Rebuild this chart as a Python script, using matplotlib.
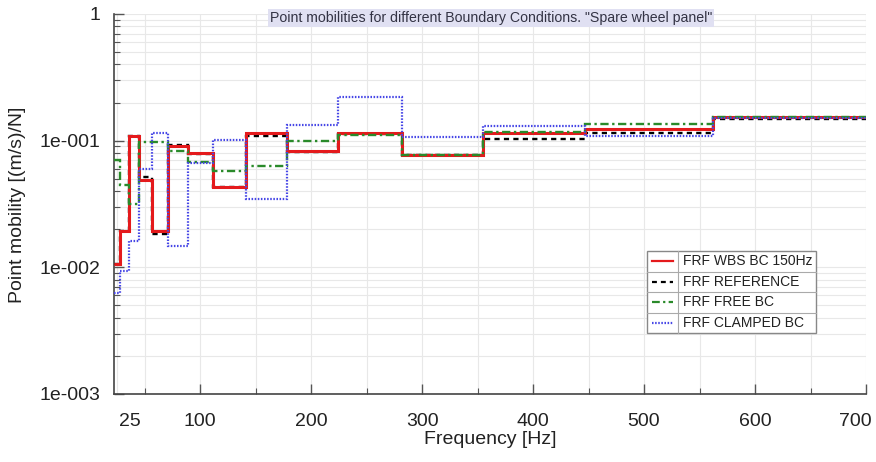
import matplotlib
matplotlib.use("Agg")
import matplotlib.pyplot as plt
from matplotlib.ticker import LogLocator, NullFormatter, MultipleLocator
from matplotlib.transforms import ScaledTranslation
from matplotlib.lines import Line2D
from matplotlib.patches import Rectangle

plt.rcParams['font.family'] = ['Liberation Sans', 'DejaVu Sans']

# one-third octave band edges [Hz]
band_edges = [22.4, 28.2, 35.5, 44.7, 56.2, 70.8, 89.1, 112, 141, 178, 224, 282, 355, 447, 562, 708]

frf_wbs = [0.0106, 0.0194, 0.109, 0.049, 0.0193, 0.090, 0.080, 0.043, 0.114, 0.083, 0.116, 0.077, 0.116, 0.123, 0.155]
frf_ref = [0.0106, 0.0194, 0.109, 0.052, 0.0183, 0.092, 0.079, 0.043, 0.108, 0.081, 0.112, 0.077, 0.103, 0.116, 0.148]
frf_free = [0.070, 0.0446, 0.0316, 0.0975, 0.098, 0.083, 0.068, 0.0575, 0.063, 0.099, 0.111, 0.077, 0.118, 0.136, 0.153]
frf_clamped = [0.0063, 0.0093, 0.0162, 0.0593, 0.114, 0.0147, 0.0666, 0.101, 0.0348, 0.133, 0.222, 0.106, 0.130, 0.109, 0.150]

series_labels = ["FRF WBS BC 150Hz", "FRF REFERENCE", "FRF FREE BC", "FRF CLAMPED BC"]

x_ticks = [25, 100, 200, 300, 400, 500, 600, 700]
x_tick_labels = ["25", "100", "200", "300", "400", "500", "600", "700"]
y_ticks = [1e-3, 1e-2, 1e-1, 1]
y_tick_labels = ["1e-003", "1e-002", "1e-001", "1"]

title = 'Point mobilities for different Boundary Conditions. "Spare wheel panel"'

W, H = 876, 462
fig = plt.figure(figsize=(W / 100, H / 100), dpi=100)


def fx(x):
    return x / W


def fy(y):
    return 1 - y / H


ax = fig.add_axes([fx(114), fy(394), (866 - 114) / W, (394 - 14) / H])
ax.set_xlim(22.4, 700)
ax.set_yscale('log')
ax.set_ylim(1e-3, 1)

styles = [
    dict(color='#e41a1c', lw=2.2, ls='-'),
    dict(color='black', lw=1.7, ls=(0, (2.2, 1.8))),
    dict(color='#2a8a2a', lw=1.7, ls=(0, (3.5, 1.5, 1, 1.5))),
    dict(color='#4646e6', lw=1.6, ls=(0, (0.7, 0.7))),
]
all_vals = [frf_wbs, frf_ref, frf_free, frf_clamped]
zorders = [3, 2, 4, 5]
for vals, st, z in zip(all_vals, styles, zorders):
    ax.stairs(vals, band_edges, baseline=None, zorder=z, **st)

ax.set_xticks(x_ticks)
ax.set_xticklabels(x_tick_labels)
ax.xaxis.set_minor_locator(MultipleLocator(50))
ax.set_yticks(y_ticks)
ax.set_yticklabels(y_tick_labels)
ax.yaxis.set_minor_locator(LogLocator(base=10, subs=[2, 3, 4, 5, 6, 7, 8, 9]))
ax.yaxis.set_minor_formatter(NullFormatter())

ax.grid(True, which='both', color='#e8e8e8', lw=0.8)
ax.set_axisbelow(True)
for s in ['top', 'right']:
    ax.spines[s].set_visible(False)
for s in ['left', 'bottom']:
    ax.spines[s].set_color('#444444')
    ax.spines[s].set_linewidth(1.2)

ax.tick_params(which='major', direction='in', length=7, width=1, color='#555555',
               labelsize=14, labelcolor='#222222')
ax.tick_params(which='minor', direction='in', length=4, width=0.8, color='#555555')
ax.tick_params(axis='x', which='major', pad=14)
ax.tick_params(axis='y', which='major', pad=10)

xt = ax.xaxis.get_major_ticks()
# shift the "25" label slightly right and the "700" label slightly left, as in the reference
xt[0].label1.set_transform(xt[0].label1.get_transform() + ScaledTranslation(13 / 100, 0, fig.dpi_scale_trans))
xt[0].tick1line.set_visible(False)
xt[-1].label1.set_transform(xt[-1].label1.get_transform() + ScaledTranslation(-11 / 100, 0, fig.dpi_scale_trans))

fig.text(fx(490), fy(440), "Frequency [Hz]", ha='center', va='center', fontsize=14, color='#222222')
fig.text(fx(18), fy(205), "Point mobility [(m/s)/N]", ha='center', va='center', rotation=90,
         fontsize=14, color='#222222')

fig.text(fx(491), fy(18), title, ha='center', va='center', fontsize=10.2, color='#333344',
         bbox=dict(boxstyle='square,pad=0.12', facecolor='#e0e0f2', edgecolor='none'))

# legend drawn as a small table
lx0, lx1, ly0, ly1 = 647, 816, 251, 333
fig.add_artist(Rectangle((fx(lx0), fy(ly1)), (lx1 - lx0) / W, (ly1 - ly0) / H,
                         transform=fig.transFigure, facecolor='white', edgecolor='#888888', lw=1))
row_h = (ly1 - ly0) / 4
for i in range(1, 4):
    yy = ly0 + i * row_h
    fig.add_artist(Line2D([fx(lx0), fx(lx1)], [fy(yy), fy(yy)], transform=fig.transFigure,
                          color='#aaaaaa', lw=0.8))
fig.add_artist(Line2D([fx(678), fx(678)], [fy(ly0), fy(ly1)], transform=fig.transFigure,
                      color='#aaaaaa', lw=0.8))
for i, (lab, st) in enumerate(zip(series_labels, styles)):
    yc = ly0 + (i + 0.5) * row_h
    st2 = dict(st)
    st2['lw'] = min(st['lw'], 1.6)
    fig.add_artist(Line2D([fx(652), fx(673)], [fy(yc), fy(yc)], transform=fig.transFigure, **st2))
    fig.text(fx(683), fy(yc), lab, ha='left', va='center', fontsize=10, color='#222222')

fig.savefig("out.png", dpi=100)
